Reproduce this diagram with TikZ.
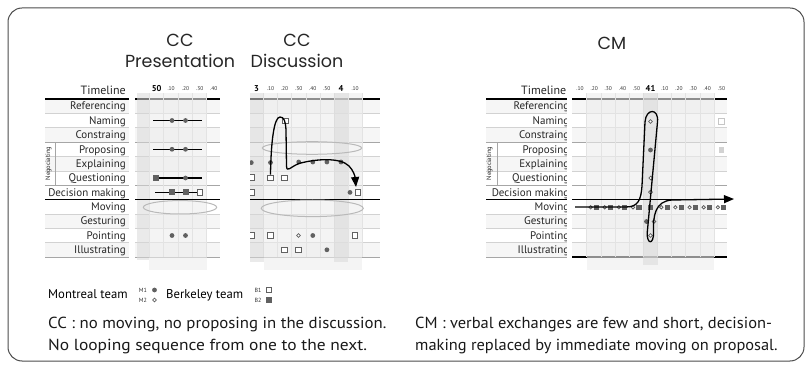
\documentclass[tikz,border=0pt]{standalone}
\usepackage{fontspec}
\setmainfont{PT Sans}
\newfontfamily\titlefont{Poppins}
\usetikzlibrary{arrows.meta}
\definecolor{mk}{gray}{0.38}
\definecolor{framec}{gray}{0.3}
% rows of a table between x=#1 and x=#2, bottom line style #3
\newcommand\rowsblock[3]{%
  \foreach \i in {0,2,4,8,10}{\fill[rowfill] (#1,{99+14.364*\i}) rectangle (#2,{99+14.364*(\i+1)});}
  \foreach \i in {1,2,4,5,8,9,10}{\draw[thinrow] (#1,{99+14.364*\i}) -- (#2,{99+14.364*\i});}
  \foreach \i in {3,6}{\draw[midrow] (#1,{99+14.364*\i}) -- (#2,{99+14.364*\i});}
  \draw[thickrow] (#1,99) -- (#2,99);
  \draw[#3] (#1,257) -- (#2,257);
}
% grid overlay: left x #1, column width #2, number of columns #3
\newcommand\gridblock[3]{%
  \fill[gridbg] (#1,93) rectangle ({#1+#2*#3},270);
  \foreach \k in {0,...,#3}{\draw[vline] ({#1+#2*\k},93) -- ({#1+#2*\k},257);}
}
\begin{document}
\begin{tikzpicture}[x=1pt,y=-1pt,
  frame/.style={draw=framec, line width=1pt, rounded corners=14pt},
  lbl/.style={font=\fontsize{11}{12}\selectfont, anchor=base east, inner sep=0pt, text=black!85},
  tml/.style={font=\fontsize{12}{13}\selectfont, anchor=base east, inner sep=0pt, text=black!85},
  neg/.style={font=\fontsize{6.5}{7}\selectfont, rotate=90, inner sep=0pt, text=black!85},
  hdr/.style={font=\fontsize{5.5}{6}\selectfont, inner sep=0pt, anchor=base, text=black!80},
  hdrb/.style={font=\bfseries\fontsize{8.5}{9}\selectfont, inner sep=0pt, anchor=base},
  ttl/.style={font=\titlefont\fontsize{17.5}{18}\selectfont, inner sep=0pt, text=black!85},
  leg/.style={font=\fontsize{12.7}{13}\selectfont, inner sep=0pt, anchor=base west, text=black},
  tinyl/.style={font=\fontsize{6}{6}\selectfont, inner sep=0pt, text=black!80},
  note/.style={font=\fontsize{16}{17}\selectfont, inner sep=0pt, anchor=base west, text=black!90},
  rowfill/.style={fill=gray!7},
  thinrow/.style={draw=gray!35, line width=0.5pt},
  midrow/.style={draw=gray!70, line width=0.9pt},
  thickrow/.style={draw=black, line width=1.6pt},
  gridbg/.style={fill=gray!14, fill opacity=0.6},
  darkcol/.style={fill=gray!30, fill opacity=0.55},
  vline/.style={draw=gray!22, line width=0.6pt},
  seg/.style={draw=black, line width=1.3pt},
  curve/.style={draw=black, line width=1.3pt},
  ell/.style={draw=gray!55, line width=1pt},
  dotm/.style={circle, fill=mk, inner sep=0pt, minimum size=4.8pt},
  circm/.style={circle, draw=mk, fill=white, line width=0.8pt, inner sep=0pt, minimum size=3.8pt},
  sqo/.style={rectangle, draw=mk, fill=white, line width=0.9pt, inner sep=0pt, minimum size=5.4pt},
  sqf/.style={rectangle, fill=mk, inner sep=0pt, minimum size=5.8pt},
  ]
\useasboundingbox (0,0) rectangle (812,366);
\draw[frame] (8,8) rectangle (804,361);

% ---------- titles ----------
\node[ttl] (t1a) at (180,40) {CC};
\node[ttl] (t1b) at (180,61) {Presentation};
\node[ttl] (t2a) at (297,40) {CC};
\node[ttl] (t2b) at (297,61) {Discussion};
\node[ttl] (t3) at (612,43) {CM};

% ---------- label column, CC ----------
\rowsblock{45}{129}{midrow}
\draw[thickrow] (45,199.5) -- (129,199.5);
\draw[midrow] (55,142.1) -- (55,185.2);
\node[neg] (neg1) at (48.5,163.6) {Negociating};
\node[tml] (tl1) at (126,95) {Timeline};
\foreach \t [count=\i from 0] in {Referencing,Naming,Constraing,Proposing,Explaining,Questioning,Decision making,Moving,Gesturing,Pointing,Illustrating}
  {\node[lbl] (la\i) at (126,{106.2+14.364*\i+3.8}) {\t};}

% ---------- CC presentation chart ----------
\rowsblock{135}{220}{midrow}
\gridblock{149.3}{14.35}{4}
\fill[darkcol] (136.7,93) rectangle (149.3,260);
\draw[thickrow] (135,199.5) -- (220,199.5);
\node[hdrb] (h1a) at (156.6,91.5) {50};
\node[hdr] (h1b) at (171.1,91) {.10};
\node[hdr] (h1c) at (185.5,91) {.20};
\node[hdr] (h1d) at (199.7,91) {.30};
\node[hdr] (h1e) at (213.8,91) {.40};
\draw[seg] (153,120.5) -- (202,120.5);
\node[dotm] (p1) at (172,120.5) {};
\node[dotm] (p2) at (185.5,120.5) {};
\draw[seg] (153,149.3) -- (202,149.3);
\node[dotm] (p3) at (172,149.3) {};
\node[dotm] (p4) at (185.5,149.3) {};
\draw[seg] (156,178) -- (202,178);
\node[sqf] (p5) at (156,178) {};
\node[dotm] (p6) at (185.5,178) {};
\draw[seg] (155,192.4) -- (202,192.4);
\node[sqf] (p7) at (172,192.4) {};
\node[sqf] (p8) at (186,192.4) {};
\node[sqo] (p9) at (200,192.4) {};
\node[dotm] (p10) at (172,235.5) {};
\node[dotm] (p11) at (185.5,235.5) {};
\draw[ell] (180,207.3) ellipse (36.7 and 6.7);

% ---------- CC discussion chart ----------
\rowsblock{250}{380}{midrow}
\gridblock{263.5}{14.1}{7}
\fill[darkcol] (250,93) rectangle (263.5,262);
\fill[darkcol] (334.0,93) rectangle (348.1,262);
\draw[thickrow] (250,199.5) -- (380,199.5);
\node[hdrb] (h2a) at (256.5,91.5) {3};
\node[hdr] (h2b) at (270.5,91) {.10};
\node[hdr] (h2c) at (284.6,91) {.20};
\node[hdr] (h2d) at (298.7,91) {.30};
\node[hdr] (h2e) at (312.8,91) {.40};
\node[hdr] (h2f) at (326.9,91) {.50};
\node[hdrb] (h2g) at (341,91.5) {4};
\node[hdr] (h2h) at (355.1,91) {.10};
\begin{scope}
  \clip (250,93) rectangle (380,270);
  \node[dotm] (d0) at (251.3,162.6) {};
  \node[sqo] (d1) at (251.3,177.5) {};
  \node[sqo] (d2) at (251.3,192.4) {};
  \node[sqo] (d3) at (251.3,235.5) {};
\end{scope}
\draw[ell] (312,148) ellipse (49.7 and 6.3);
\draw[ell] (312.3,208.3) ellipse (51 and 8.3);
\node[dotm] (e1) at (270.5,162.6) {};
\node[dotm] (e2) at (298.7,162) {};
\node[dotm] (e3) at (312.8,162) {};
\node[dotm] (e4) at (326.9,162) {};
\node[dotm] (e5) at (341,162) {};
\node[sqo] (q1) at (270.5,177.7) {};
\node[sqo] (q2) at (284.6,177.7) {};
\node[sqo] (n1) at (285.5,121) {};
\node[dotm] (dm1) at (350,192.4) {};
\node[sqo] (dm2) at (358,192.4) {};
\node[sqo] (po1) at (270.5,235.5) {};
\node[circm] (po2) at (298.5,235.5) {};
\node[dotm] (po3) at (312.8,235.5) {};
\node[sqo] (po4) at (355,235.5) {};
\node[sqo] (il1) at (284.6,249.8) {};
\node[sqo] (il2) at (298.5,249.8) {};
\node[dotm] (il3) at (326.9,249.8) {};
\coordinate (dArr) at (356,187);
\draw[curve,-{Triangle[length=10pt,width=8pt]}] (q1.north)
  .. controls (271,142) and (274,117) .. (280,117)
  .. controls (284,117) and (285.5,121) .. (286,130)
  -- (286.5,166)
  .. controls (287,173) and (290,167) .. (299,163.5)
  .. controls (315,159) and (340,157) .. (349,166)
  .. controls (353,170) and (355,176) .. (dArr);

% ---------- label column, CM ----------
\rowsblock{486}{567}{midrow}
\draw[thickrow] (486,199.5) -- (567,199.5);
\draw[midrow] (497.7,142.1) -- (497.7,185.2);
\node[neg] (neg2) at (489.5,163.6) {Negociating};
\node[tml] (tl2) at (566.5,95) {Timeline};
\begin{scope}
  \clip (480,100) rectangle (566.3,257);
  \foreach \t [count=\i from 0] in {Referencing,Naming,Constraing,Proposing,Explaining,Questioning,Decision making,Moving,Gesturing,Pointing,Illustrating}
    {\node[lbl] (lb\i) at (569.5,{106.2+14.364*\i+3.8}) {\t};}
\end{scope}

% ---------- CM chart ----------
\rowsblock{572}{727}{thickrow}
\gridblock{586.7}{14.15}{9}
\fill[darkcol] (643.3,93) rectangle (657.7,265);
\draw[thickrow] (572,199.5) -- (727,199.5);
\foreach \lab/\xx [count=\j] in {.10/580,.20/594.2,.30/608.3,.40/622.5,.50/636.6,.10/664.9,.20/679,.30/693.2,.40/707.3,.50/721.5}
  {\node[hdr] (hc\j) at (\xx,91) {\lab};}
\node[hdrb] (hc0) at (650.5,91.5) {41};
\node[circm] (c1) at (650.5,121.5) {};
\node[sqo, draw=gray!45, line width=0.7pt] (c2) at (721.5,121.5) {};
\node[dotm] (c3) at (650.5,150) {};
\node[sqf, fill=gray!35] (c4) at (721.5,150) {};
\node[circm] (c5) at (650.8,178) {};
\node[circm] (c6) at (650.5,192.2) {};
\foreach \xx [count=\j] in {594.2,608.3,622.5,636.6,664.9,679,693.2,707.3,721.5}
  {\node[circm, minimum size=3.4pt] (mo\j) at ({\xx-3.6},207.3) {};
   \node[sqf, minimum size=5.2pt] (ms\j) at ({\xx+2.3},207.3) {};}
\node[sqf, minimum size=5.2pt] (ms0) at (650.5,207.3) {};
\node[dotm] (g1) at (646.5,221.5) {};
\node[circm] (g2) at (654,221.5) {};
\node[circm] (pt1) at (650.5,235.5) {};
\coordinate (cmS) at (575,207);
\coordinate (cmE) at (734,199);
\draw[curve,-{Triangle[length=10pt,width=8pt]}] (cmS) -- (626,207)
  .. controls (638,207) and (641,200) .. (642,186)
  -- (645,122)
  .. controls (646,108) and (659,108) .. (657.5,122)
  -- (647.3,232)
  .. controls (646.5,245) and (654,245) .. (653.5,232)
  .. controls (653,216) and (655,201) .. (672,200)
  -- (cmE);

% ---------- legend ----------
\node[leg] (mt) at (48,299) {Montreal team};
\node[tinyl] (m1) at (143,290) {M1};
\node[dotm] (m1d) at (154.5,290) {};
\node[tinyl] (m2) at (143,300) {M2};
\node[circm] (m2d) at (154.5,300) {};
\node[leg] (bt) at (166,299) {Berkeley team};
\node[tinyl] (b1) at (258,290) {B1};
\node[sqo] (b1s) at (269,290) {};
\node[tinyl] (b2) at (258,300) {B2};
\node[sqf] (b2s) at (269,300) {};

% ---------- notes ----------
\node[note] (n1a) at (48,329) {\scalebox{1.05}[1]{CC : no moving, no proposing in the discussion.}};
\node[note] (n1b) at (48,350) {\scalebox{1.09}[1]{No looping sequence from one to the next.}};
\node[note] (n2a) at (415,329) {\scalebox{1.03}[1]{CM : verbal exchanges are few and short, decision-}};
\node[note] (n2b) at (415,350) {\scalebox{1.025}[1]{making replaced by immediate moving on proposal.}};
\end{tikzpicture}
\end{document}
